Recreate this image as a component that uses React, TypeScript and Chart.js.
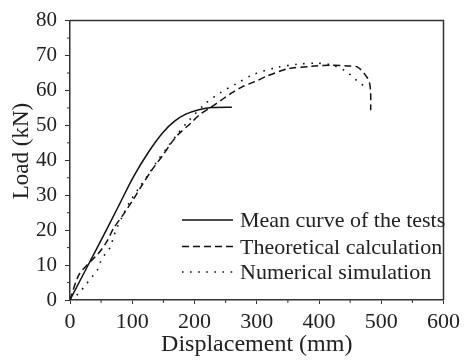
import React, { useEffect, useRef } from 'react';
import { Chart, registerables } from 'chart.js';

Chart.register(...registerables);

// Mean curve of the tests (solid)
const meanX = [0, 30, 60, 80, 101, 127, 149, 168, 186, 207, 228, 260];
const meanY = [0, 10.3, 20.6, 27.6, 35.0, 42.6, 47.9, 51.2, 53.2, 54.5, 55.1, 55.2];

// Theoretical calculation (dashed)
const theoX = [0, 14, 30, 46, 59, 70, 85, 101, 114, 133, 149, 162, 175, 194, 207, 228, 242, 258, 275, 298, 315, 350, 388, 420, 445, 462, 475, 481, 483, 483];
const theoY = [0, 7.1, 10.5, 13.4, 16.7, 20.5, 24.3, 28.6, 32.4, 37.6, 41.4, 44.8, 47.6, 50.6, 52.9, 55.4, 57.1, 59.1, 60.9, 62.6, 64, 66.2, 66.9, 67.2, 67.0, 66.7, 64.3, 62.3, 59, 54.3];

// Numerical simulation (dotted)
const numX = [0, 14, 25, 36, 44, 49, 57, 65, 70, 75, 83, 96, 112, 125, 141, 157, 173, 191, 218, 242, 268, 295, 330, 365, 395, 420, 443, 457, 467, 474];
const numY = [0, 1.9, 4.3, 6.7, 8.6, 10.9, 13.3, 15.2, 18.1, 20.5, 23.5, 28.1, 32.4, 35.7, 40, 43.8, 47.6, 51.4, 56.3, 59.4, 62, 64.6, 66.5, 67.5, 67.8, 67.3, 65.5, 63.4, 62, 61];

const seriesLabels = ['Mean curve of the tests', 'Theoretical calculation', 'Numerical simulation'];
const xTitle = 'Displacement (mm)';
const yTitle = 'Load (kN)';
const xMinorTicks = [50, 150, 250, 350, 450, 550];
const yMinorTicks = [5, 15, 25, 35, 45, 55, 65, 75];

const FONT = "'Liberation Serif', 'Times New Roman', serif";
const AXIS = '#333';
const INK = '#111';

const framePlugin = {
  id: 'frameAndLegend',
  afterDraw(chart: any) {
    const { ctx, chartArea: a, scales } = chart;
    ctx.save();
    ctx.strokeStyle = AXIS;
    ctx.lineWidth = 1.5;
    ctx.beginPath();
    ctx.moveTo(a.left, a.top);
    ctx.lineTo(a.right, a.top);
    ctx.lineTo(a.right, a.bottom);
    ctx.stroke();
    ctx.lineWidth = 1;
    ctx.beginPath();
    for (const v of xMinorTicks) {
      const px = scales.x.getPixelForValue(v);
      ctx.moveTo(px, a.bottom);
      ctx.lineTo(px, a.bottom + 3);
    }
    for (const v of yMinorTicks) {
      const py = scales.y.getPixelForValue(v);
      ctx.moveTo(a.left, py);
      ctx.lineTo(a.left - 3, py);
    }
    ctx.stroke();

    // y-axis title
    ctx.fillStyle = '#222';
    ctx.font = `23px ${FONT}`;
    ctx.textAlign = 'center';
    ctx.textBaseline = 'middle';
    ctx.save();
    ctx.translate(22, 151);
    ctx.rotate(-Math.PI / 2);
    ctx.fillText(yTitle, 0, 0);
    ctx.restore();

    // legend
    const lx0 = 182, lx1 = 233, tx = 240;
    const rows = [220, 246.5, 272];
    chart.data.datasets.forEach((ds: any, i: number) => {
      const y = rows[i];
      ctx.strokeStyle = INK;
      ctx.lineWidth = ds.borderWidth;
      ctx.setLineDash(ds.borderDash || []);
      ctx.beginPath();
      ctx.moveTo(lx0, y);
      ctx.lineTo(lx1, y);
      ctx.stroke();
      ctx.setLineDash([]);
      ctx.fillStyle = '#222';
      ctx.font = `22px ${FONT}`;
      ctx.textBaseline = 'alphabetic';
      ctx.textAlign = 'left';
      ctx.fillText(ds.label, tx, y + 7);
    });
    ctx.restore();
  },
};

export default function App() {
  const ref = useRef<HTMLCanvasElement>(null);
  useEffect(() => {
    document.body.style.margin = '0';
    const pts = (xs: number[], ys: number[]) => xs.map((x, i) => ({ x, y: ys[i] }));
    const chart = new Chart(ref.current as HTMLCanvasElement, {
      type: 'line',
      data: {
        datasets: [
          { label: seriesLabels[0], data: pts(meanX, meanY), borderColor: INK, borderWidth: 1.5, pointRadius: 0, cubicInterpolationMode: 'monotone', fill: false },
          { label: seriesLabels[1], data: pts(theoX, theoY), borderColor: INK, borderWidth: 1.5, borderDash: [7, 4], pointRadius: 0, tension: 0.3, fill: false },
          { label: seriesLabels[2], data: pts(numX, numY), borderColor: INK, borderWidth: 1.6, borderDash: [1.6, 6.5], pointRadius: 0, tension: 0.3, fill: false },
        ],
      },
      options: {
        animation: false,
        responsive: false,
        layout: { padding: { top: 20, right: 18, left: 0, bottom: 0 } },
        plugins: { legend: { display: false }, tooltip: { enabled: false } },
        scales: {
          x: {
            type: 'linear',
            min: 0,
            max: 600,
            ticks: { stepSize: 100, font: { family: FONT, size: 22 }, color: '#222', padding: 5, maxRotation: 0 },
            grid: { drawOnChartArea: false, tickLength: 4, color: AXIS, lineWidth: 1 },
            border: { color: AXIS, width: 1.5 },
            title: { display: true, text: xTitle, font: { family: FONT, size: 24 }, color: '#222', padding: { top: 0, bottom: 1 } },
            afterFit: (s: any) => { s.height = 60; },
          },
          y: {
            type: 'linear',
            min: 0,
            max: 80,
            ticks: { stepSize: 10, font: { family: FONT, size: 21 }, color: '#222', padding: 8 },
            grid: { drawOnChartArea: false, tickLength: 5, color: AXIS, lineWidth: 1 },
            border: { color: AXIS, width: 1.5 },
            title: { display: false },
            afterFit: (s: any) => { s.width = 70; },
          },
        },
      },
      plugins: [framePlugin],
    } as any);
    return () => chart.destroy();
  }, []);
  return <canvas ref={ref} width={465} height={360} style={{ display: 'block' }} />;
}
